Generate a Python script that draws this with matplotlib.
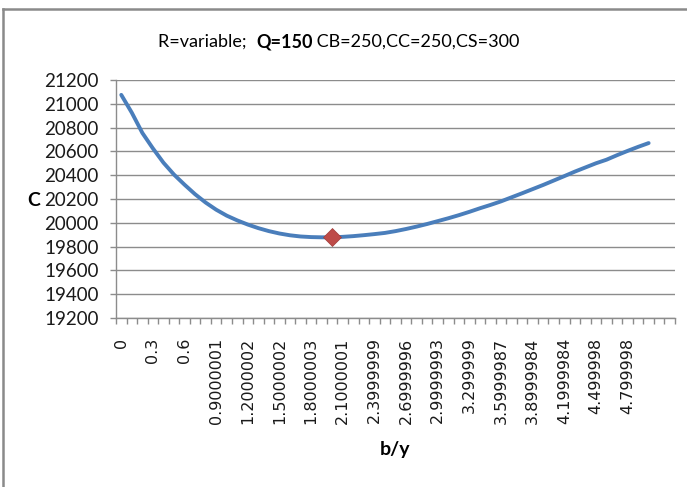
import matplotlib
matplotlib.use("Agg")
import matplotlib.pyplot as plt
from matplotlib.lines import Line2D
import numpy as np

# ---- data ----
cost_values = [21075, 20925, 20755, 20625, 20505, 20405, 20320, 20240, 20170, 20110,
               20060, 20020, 19985, 19955, 19930, 19910, 19895, 19885, 19880, 19878,
               19878, 19882, 19888, 19896, 19905, 19915, 19930, 19948, 19968, 19990,
               20014, 20038, 20064, 20092, 20122, 20150, 20180, 20214, 20248, 20283,
               20318, 20355, 20392, 20430, 20465, 20500, 20530, 20568, 20604, 20638, 20670]
shown_labels = ["0", "0.3", "0.6", "0.9000001", "1.2000002", "1.5000002", "1.8000003",
                "2.1000001", "2.3999999", "2.6999996", "2.9999993", "3.299999",
                "3.5999987", "3.8999984", "4.1999984", "4.499998", "4.799998"]
label_step = 3
min_index = [20]
min_value = [19878]
y_ticks = [19200, 19400, 19600, 19800, 20000, 20200, 20400, 20600, 20800, 21000, 21200]

FONT = "Lato"
plt.rcParams["font.family"] = [FONT, "DejaVu Sans"]

fig = plt.figure(figsize=(6.87, 4.87), dpi=100)
W, H = 687, 487
L, R, T, B = 116, 675, 80, 318
ax = fig.add_axes([L / W, 1 - B / H, (R - L) / W, (B - T) / H])

x = np.arange(len(cost_values))
ax.plot(x, cost_values, color="#4A7EBB", lw=2.8, solid_capstyle="round", zorder=3)
ax.plot(min_index, min_value, linestyle="none", marker="D", ms=9,
        color="#BE4B48", mec="#A03C3A", mew=0.5, zorder=4)

ax.set_ylim(19200, 21200)
ax.set_xlim(-0.5, 52.5)
ax.set_yticks(y_ticks)
ax.set_yticklabels([str(v) for v in y_ticks], fontsize=13.5, color="#1A1A1A")
ax.yaxis.grid(True, color="#8C8C8C", lw=1.0)
ax.set_axisbelow(True)

label_pos = [i * label_step for i in range(len(shown_labels))]
ax.set_xticks(label_pos)
ax.set_xticklabels(shown_labels, rotation=90, fontsize=11.5, color="#1A1A1A",
                   family="DejaVu Sans")
ax.set_xticks(np.arange(-0.5, 53, 1.0), minor=True)
ax.tick_params(axis="x", which="major", length=0, pad=14)
ax.tick_params(axis="x", which="minor", length=4.5, color="#8C8C8C", width=1)
ax.tick_params(axis="y", which="major", length=4.5, color="#8C8C8C", width=1, pad=8)

for s in ["top", "right"]:
    ax.spines[s].set_visible(False)
for s in ["left", "bottom"]:
    ax.spines[s].set_color("#8C8C8C")
    ax.spines[s].set_linewidth(1.0)

fig.text(34 / W, 1 - 200 / H, "C", fontsize=14, fontweight="bold", ha="center", va="center")
fig.text(395 / W, 1 - 449 / H, "b/y", fontsize=14, fontweight="bold", ha="center", va="center")

# title in pieces (Q=150 bold)
pieces = [("R=variable;  ", "normal"), ("Q=150", "bold"), (" CB=250,CC=250,CS=300", "normal")]
renderer = fig.canvas.get_renderer()
texts = []
for s, w in pieces:
    t = fig.text(0, 1 - 42 / H, s, fontsize=13, fontweight=w, ha="left", va="center")
    texts.append(t)
widths = [t.get_window_extent(renderer).width for t in texts]
total = sum(widths)
xpos = 339 - total / 2
for t, wd in zip(texts, widths):
    t.set_x(xpos / W)
    xpos += wd

# outer chart border (top and left visible)
fig.add_artist(Line2D([3 / W, 1], [1 - 9 / H, 1 - 9 / H], color="#8A8A8A", lw=1.8))
fig.add_artist(Line2D([3 / W, 3 / W], [0, 1 - 9 / H], color="#8A8A8A", lw=1.8))

fig.savefig("out.png", dpi=100)
